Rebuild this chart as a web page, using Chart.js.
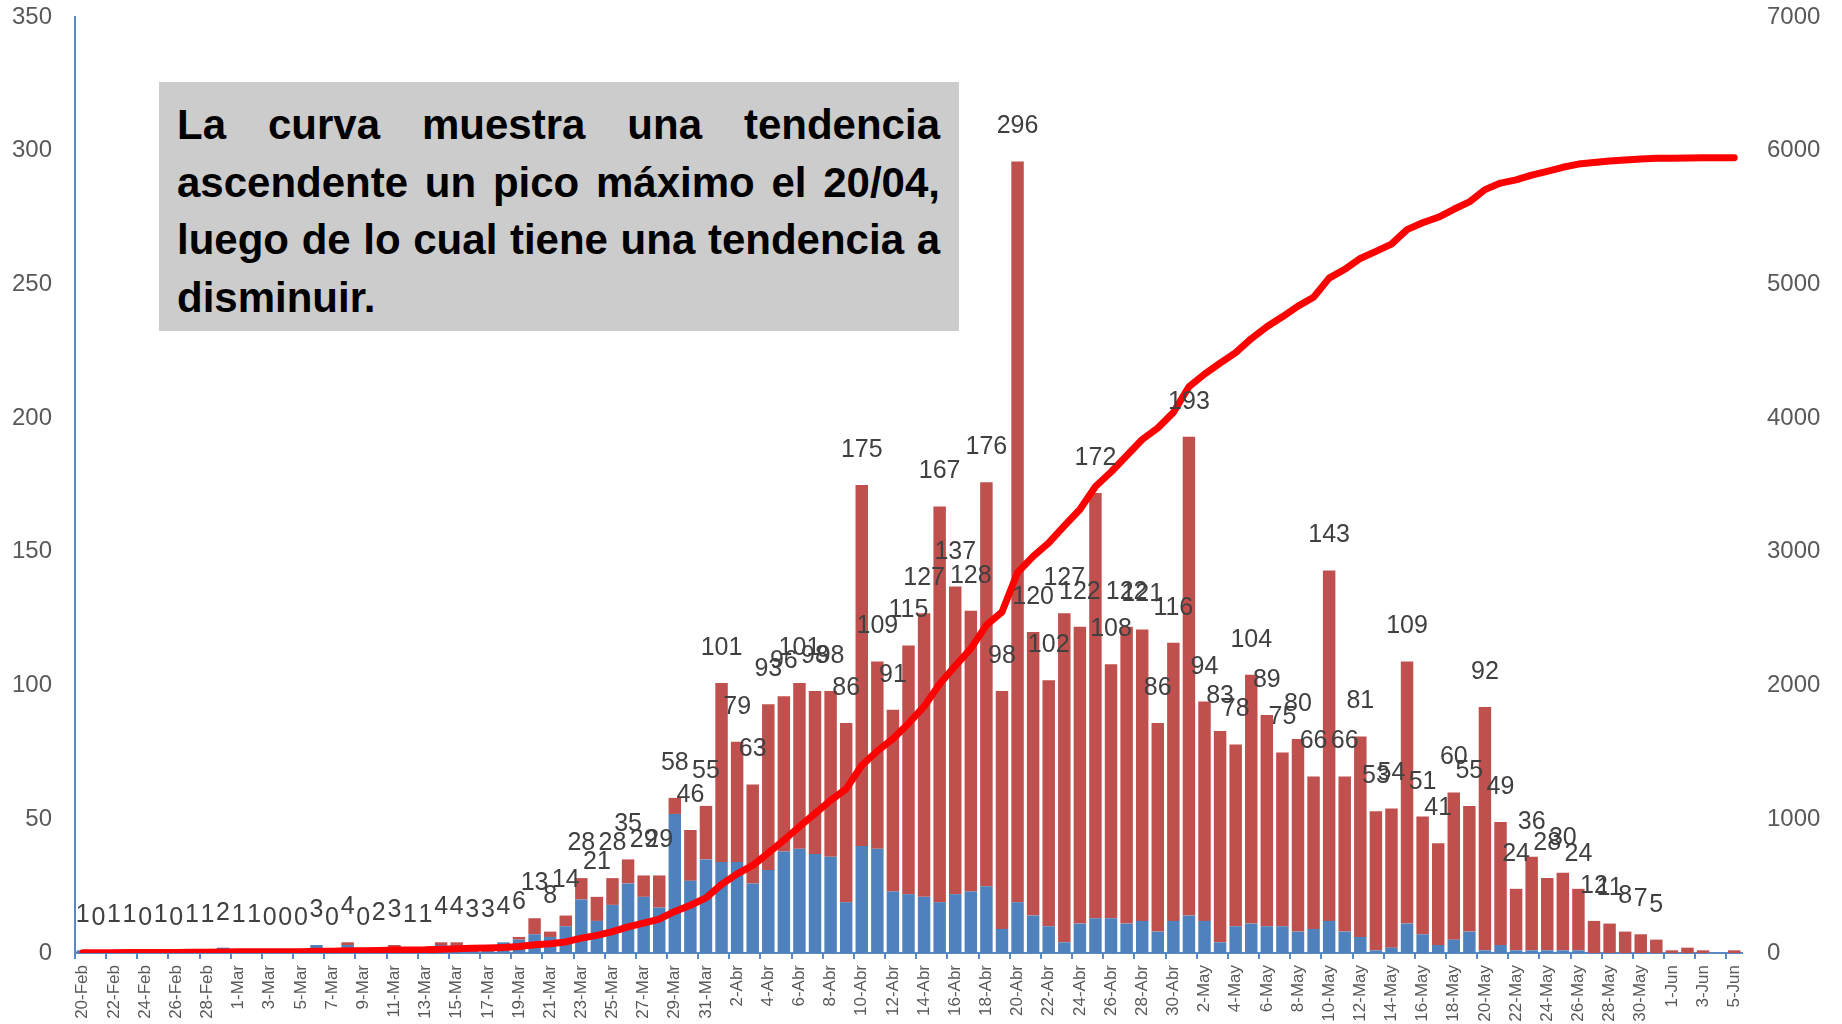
<!DOCTYPE html>
<html lang="es">
<head>
<meta charset="utf-8">
<title>Curva de casos</title>
<script src="https://cdn.jsdelivr.net/npm/chart.js@4/dist/chart.umd.min.js"></script>
<style>
  html, body { margin: 0; padding: 0; background: #ffffff; }
  #wrap { position: relative; width: 1842px; height: 1024px; overflow: hidden; }
  #c { position: absolute; left: 0; top: 0; }
  #note {
    position: absolute; left: 159px; top: 82px; width: 800px; height: 249px;
    background: #CCCCCC; box-sizing: border-box; padding: 14px 19px 0 18px;
    font-family: "Liberation Sans", Arial, sans-serif; font-weight: bold; font-size: 42px;
    line-height: 57.5px; color: #000000;
  }
  #note .j { text-align: justify; text-align-last: justify; white-space: nowrap; }
  #note .l { text-align: left; white-space: nowrap; }
</style>
</head>
<body>
<div id="wrap">
  <canvas id="c" width="1842" height="1024"></canvas>
  <div id="note">
    <div class="j">La curva muestra una tendencia</div>
    <div class="j">ascendente un pico máximo el 20/04,</div>
    <div class="j">luego de lo cual tiene una tendencia a</div>
    <div class="l">disminuir.</div>
  </div>
</div>
<script>
const dateLabels = [
  "20-Feb","21-Feb","22-Feb","23-Feb","24-Feb","25-Feb","26-Feb","27-Feb","28-Feb","29-Feb",
  "1-Mar","2-Mar","3-Mar","4-Mar","5-Mar","6-Mar","7-Mar","8-Mar","9-Mar","10-Mar",
  "11-Mar","12-Mar","13-Mar","14-Mar","15-Mar","16-Mar","17-Mar","18-Mar","19-Mar","20-Mar",
  "21-Mar","22-Mar","23-Mar","24-Mar","25-Mar","26-Mar","27-Mar","28-Mar","29-Mar","30-Mar","31-Mar",
  "1-Abr","2-Abr","3-Abr","4-Abr","5-Abr","6-Abr","7-Abr","8-Abr","9-Abr","10-Abr",
  "11-Abr","12-Abr","13-Abr","14-Abr","15-Abr","16-Abr","17-Abr","18-Abr","19-Abr","20-Abr",
  "21-Abr","22-Abr","23-Abr","24-Abr","25-Abr","26-Abr","27-Abr","28-Abr","29-Abr","30-Abr",
  "1-May","2-May","3-May","4-May","5-May","6-May","7-May","8-May","9-May","10-May",
  "11-May","12-May","13-May","14-May","15-May","16-May","17-May","18-May","19-May","20-May",
  "21-May","22-May","23-May","24-May","25-May","26-May","27-May","28-May","29-May","30-May","31-May",
  "1-Jun","2-Jun","3-Jun","4-Jun","5-Jun"
];

// lower (blue) part of each daily bar
const blueSeries = [
  1,0,1,1,0,1,0,1,1,2,
  1,1,0,0,0,3,0,3,0,2,
  2,1,1,3,3,2,3,4,5,7,
  6,10,20,12,18,26,21,17,52,27,35,
  34,34,26,31,38,39,37,36,19,40,
  39,23,22,21,19,22,23,25,9,19,
  14,10,4,11,13,13,11,12,8,12,
  14,12,4,10,11,10,10,8,9,12,
  8,6,1,2,11,7,3,5,8,1,
  3,1,1,1,1,1,0,0,0,0,0,
  0,0,0,0,0
];

// upper (red) part of each daily bar
const redSeries = [
  0,0,0,0,0,0,0,0,0,0,
  0,0,0,0,0,0,0,1,0,0,
  1,0,0,1,1,1,0,0,1,6,
  2,4,8,9,10,9,8,12,6,19,20,
  67,45,37,62,58,62,61,62,67,135,
  70,68,93,106,148,115,105,151,89,277,
  106,92,123,111,159,95,111,109,78,104,
  179,82,79,68,93,79,65,72,57,131,
  58,75,52,52,98,44,38,55,47,91,
  46,23,35,27,29,23,12,11,8,7,5,
  1,2,1,0,1
];

// numbers printed above the bars (none shown for June)
const labelTotals = [
  1,0,1,1,0,1,0,1,1,2,
  1,1,0,0,0,3,0,4,0,2,
  3,1,1,4,4,3,3,4,6,13,
  8,14,28,21,28,35,29,29,58,46,55,
  101,79,63,93,96,101,98,98,86,175,
  109,91,115,127,167,137,128,176,98,296,
  120,102,127,122,172,108,122,121,86,116,
  193,94,83,78,104,89,75,80,66,143,
  66,81,53,54,109,51,41,60,55,92,
  49,24,36,28,30,24,12,11,8,7,5,
  null,null,null,null,null
];

// accumulated total (right axis)
const cumulative = [
  1,1,2,3,3,4,4,5,6,8,
  9,10,10,10,10,13,13,17,17,19,
  22,23,24,28,32,35,38,42,48,61,
  69,83,111,132,160,195,224,253,311,357,412,
  513,592,655,748,844,945,1043,1141,1227,1402,
  1511,1602,1717,1844,2011,2148,2276,2452,2550,2846,
  2966,3068,3195,3317,3489,3597,3719,3840,3926,4042,
  4235,4329,4412,4490,4594,4683,4758,4838,4904,5047,
  5113,5194,5247,5301,5410,5461,5502,5562,5617,5709,
  5758,5782,5818,5846,5876,5900,5912,5923,5931,5938,5943,
  5944,5946,5947,5947,5948
];

const leftTicks = { min: 0, max: 350, step: 50 };
const rightTicks = { min: 0, max: 7000, step: 1000 };

const FONT = '"Liberation Sans", Arial, sans-serif';
const AXIS_BLUE = '#5A8AC6';
const TICK_GRAY = '#595959';

const totalLabelPlugin = {
  id: 'totalLabels',
  afterDatasetsDraw(chart) {
    const ctx = chart.ctx;
    const xs = chart.scales.x, ys = chart.scales.y;
    ctx.save();
    ctx.font = '25px ' + FONT;
    ctx.fillStyle = '#404040';
    ctx.textAlign = 'center';
    ctx.textBaseline = 'middle';
    labelTotals.forEach((v, i) => {
      if (v === null) return;
      const px = xs.getPixelForValue(i);
      const py = ys.getPixelForValue(blueSeries[i] + redSeries[i]);
      ctx.fillText(String(v), px, py - 35);
    });
    ctx.restore();
  }
};

function noPad(s) { s.paddingTop = 0; s.paddingBottom = 0; s.paddingLeft = 0; s.paddingRight = 0; }

new Chart(document.getElementById('c'), {
  type: 'bar',
  data: {
    labels: dateLabels,
    datasets: [
      {
        type: 'line', label: 'Acumulado', data: cumulative, yAxisID: 'y2',
        borderColor: '#FF0000', backgroundColor: '#FF0000', borderWidth: 7,
        pointRadius: 0, tension: 0, order: 0, fill: false,
        borderCapStyle: 'round', borderJoinStyle: 'round'
      },
      {
        label: 'A', data: blueSeries, yAxisID: 'y', stack: 's', order: 1,
        backgroundColor: '#4F81BD', borderWidth: 0, barPercentage: 0.8, categoryPercentage: 1
      },
      {
        label: 'B', data: redSeries, yAxisID: 'y', stack: 's', order: 1,
        backgroundColor: '#C0504D', borderWidth: 0, barPercentage: 0.8, categoryPercentage: 1
      }
    ]
  },
  options: {
    responsive: false, animation: false, devicePixelRatio: 1,
    layout: { padding: { top: 17, left: 0, right: 0, bottom: 0 } },
    plugins: { legend: { display: false }, tooltip: { enabled: false } },
    scales: {
      x: {
        stacked: true, offset: true,
        grid: {
          offset: true, drawOnChartArea: false, drawTicks: true, tickLength: 6, lineWidth: 2,
          color: (c) => (c.index % 2 === 0 ? AXIS_BLUE : 'rgba(0,0,0,0)')
        },
        border: { display: true, color: AXIS_BLUE, width: 2 },
        ticks: {
          autoSkip: false, maxRotation: 90, minRotation: 90, padding: 6,
          color: TICK_GRAY, font: { family: FONT, size: 17 },
          callback: (v, i) => (i % 2 === 0 ? dateLabels[i] : '')
        },
        afterFit: (s) => { s.height = 71; noPad(s); }
      },
      y: {
        stacked: true, position: 'left', min: leftTicks.min, max: leftTicks.max,
        grid: { display: false, drawTicks: false },
        border: { display: true, color: AXIS_BLUE, width: 2 },
        ticks: { stepSize: leftTicks.step, padding: 23, color: TICK_GRAY, font: { family: FONT, size: 24 } },
        afterFit: (s) => { s.width = 75; noPad(s); }
      },
      y2: {
        position: 'right', min: rightTicks.min, max: rightTicks.max,
        grid: { display: false, drawTicks: false },
        border: { display: false },
        ticks: {
          stepSize: rightTicks.step, padding: 25, color: TICK_GRAY, font: { family: FONT, size: 24 },
          callback: (v) => String(v)
        },
        afterFit: (s) => { s.width = 100; noPad(s); }
      }
    }
  },
  plugins: [totalLabelPlugin]
});
</script>
</body>
</html>
